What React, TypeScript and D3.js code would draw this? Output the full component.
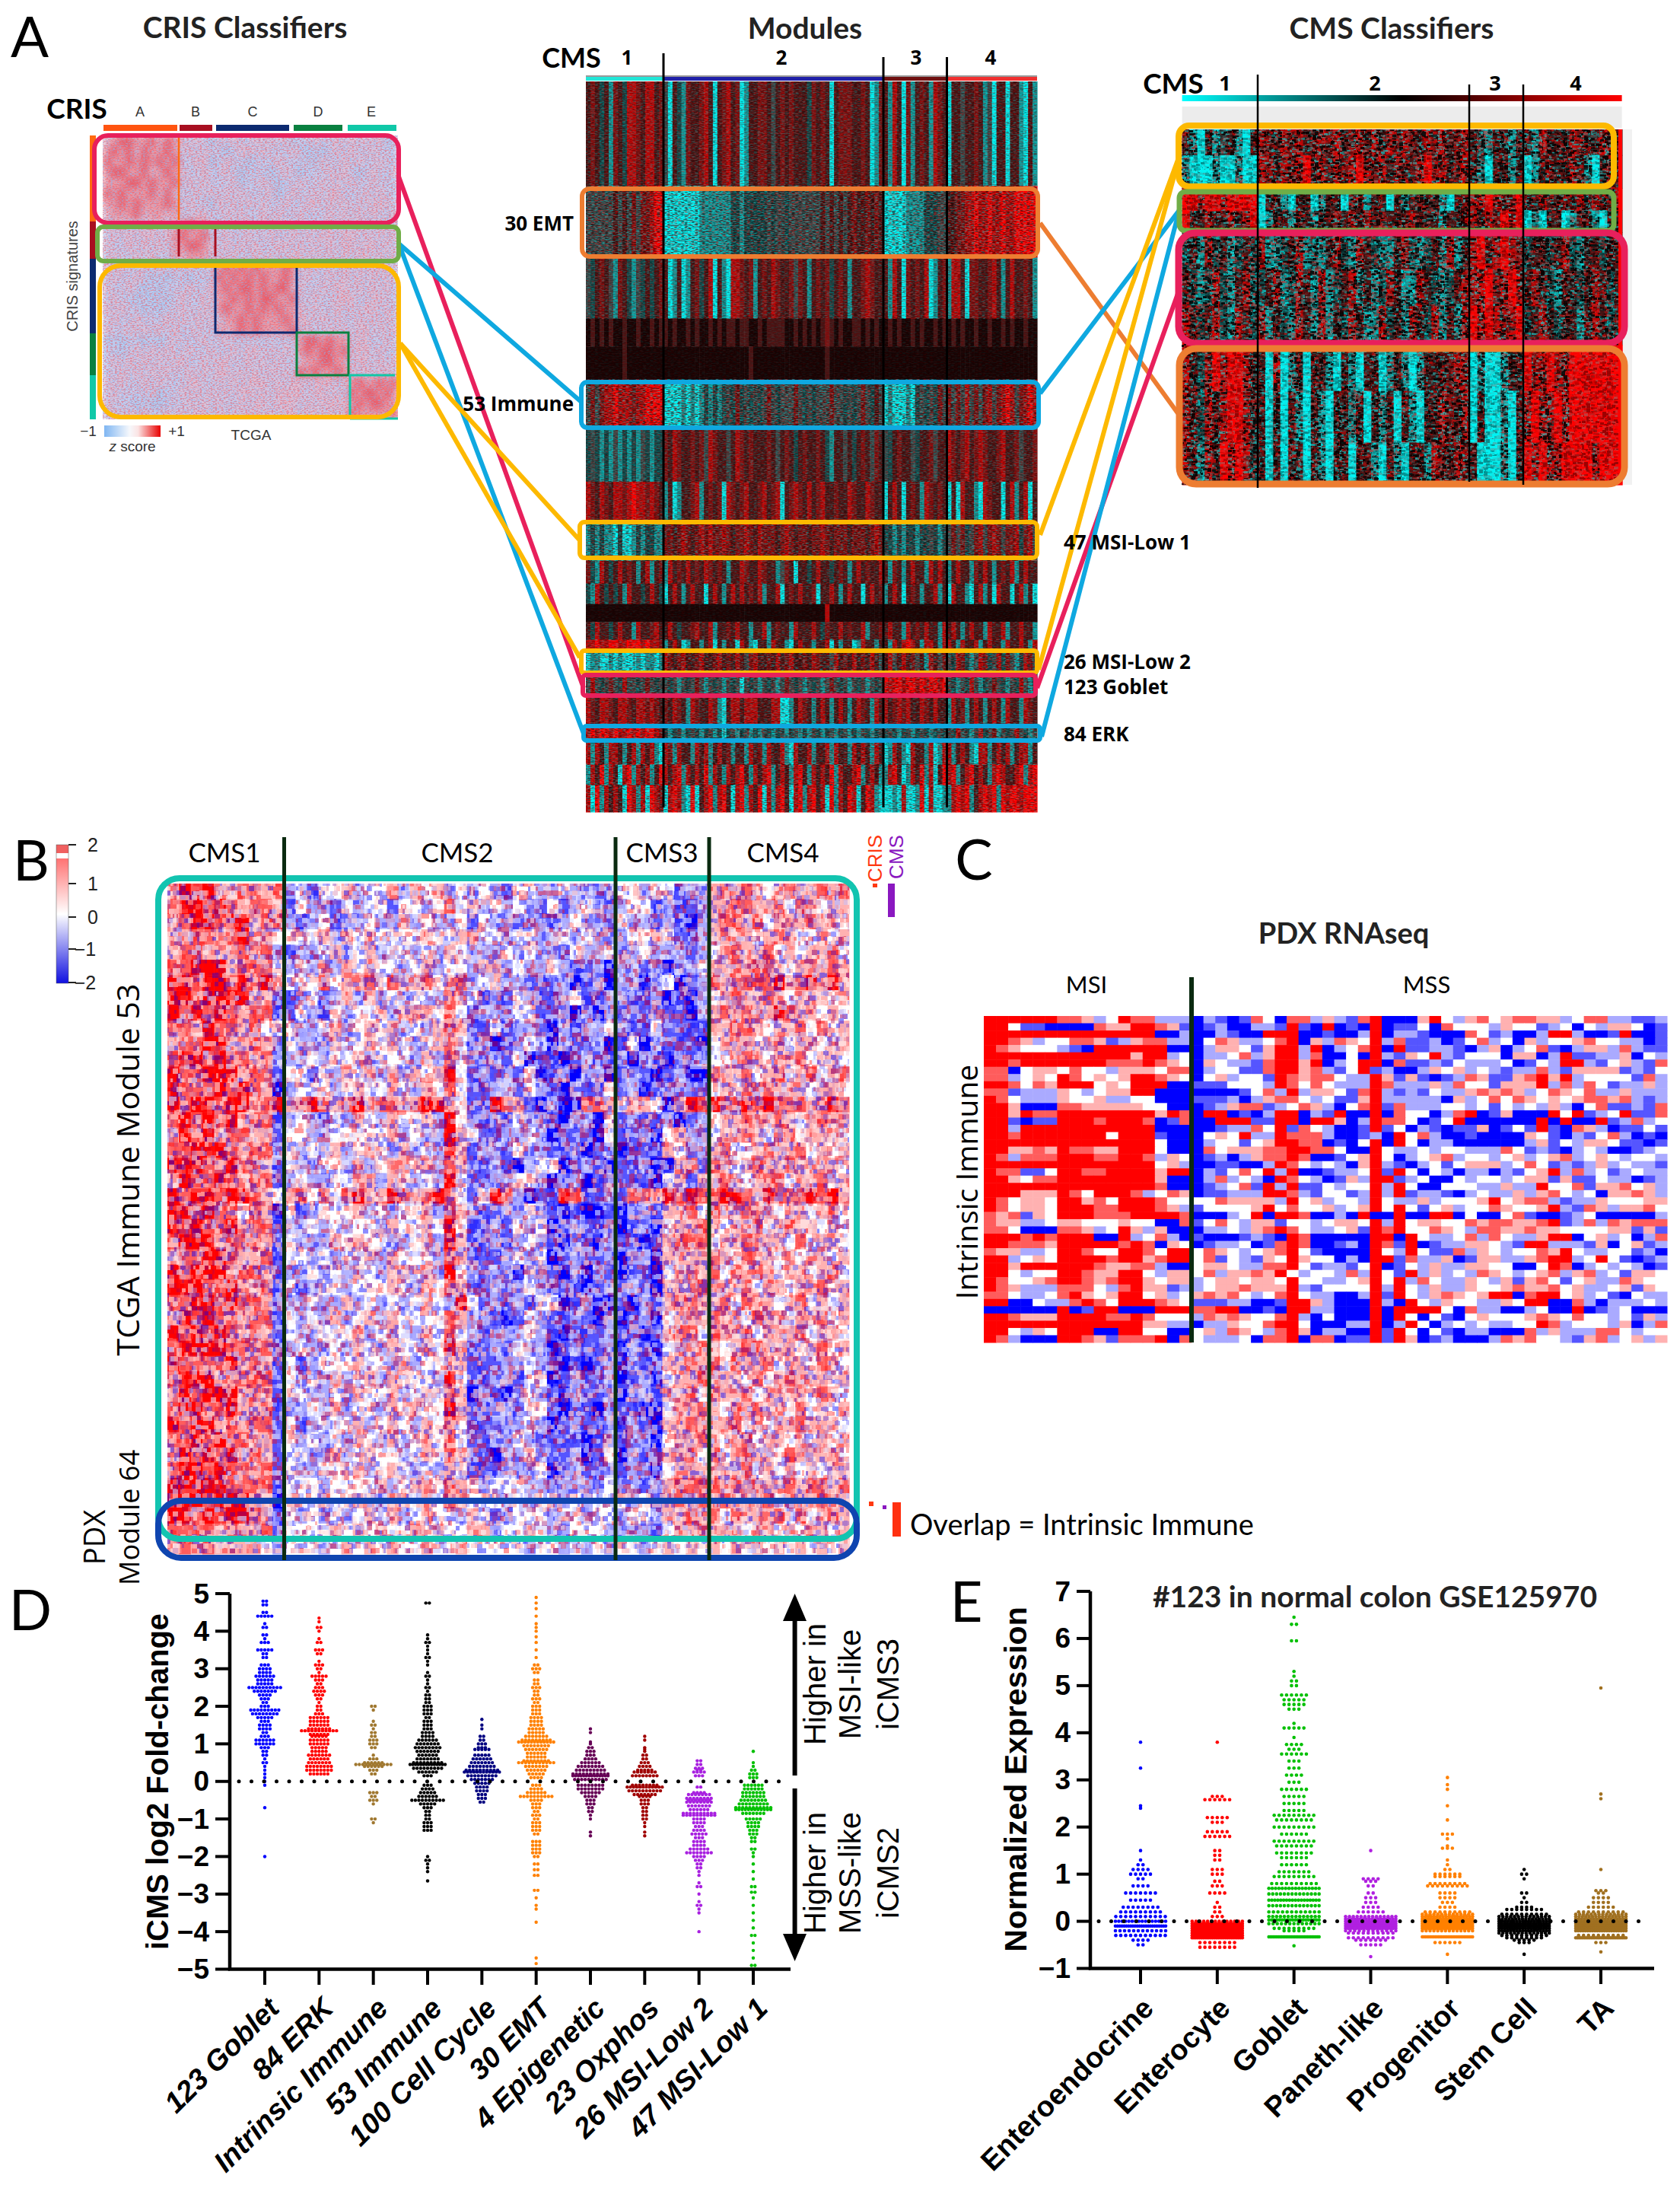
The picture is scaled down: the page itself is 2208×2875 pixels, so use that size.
import React from 'react';
import * as d3 from 'd3';

// ---------- Panel A: module heat map (cyan / black / red), one row per module band, one string per CMS group
const heatPaletteKeys = ['c','t','d','g','m','r','R','F','k'];
const heatPaletteVals = ['#00f2f2','#109c9c','#124848','#3a4a4a','#481414','#7c1010','#b80808','#ff0000','#180404'];
const moduleRowSizes = [205,140,120,55,65,95,105,80,75,45,40,35,35,22,45,43,60,28,47,40,53];
const moduleCms1 = ['mrmdmtrmdRRrmRRmr','ggggggmgmgrgrrRFF','gdmrmgtrmdtgdmdmr','kmkmkmkkmkkmkkmkm','kkkkkkkkmkkkkkkkk','grgrRRFRRRrRRFFFF','dgdtdtgtdtdtgdtdd','RrmRrmRRrRFRRrRrm','tdtdttcdcctdtddtt','rdtRmdmRmrmtmRtmr','dtRmdmdmtRmmdmRmd','kkkkkkkkkkkkkkkkk','mdRmmdmRmmtRmmrRm','RRFRRFFRRFFFRFRRr','cttcctctccctcttct','gRgdgrgdRggdgrgdg','RrmRRrmRRrmRRrRrm','RFRFFRFRRFRFRFFRr','RtRmtRRmtmRtRmRtc','tRmFtRmcRFtRmRtmF','RcFtRmRmcFRtRcFRr'];
const moduleCms2 = ['gcmdtrmmrRmcmrRmrctmmrrmgmrmrmmmdrmrmcmrrrmmrmctr','cccccccctttttttddtdddddgdggdgggggggmgmgmgmrmmrmrm','mctmctmrdmRcmtcRRrmrtmrmRrmmrgrmtmrmrdmrmtmmrRrmm','mkmkkmkmkkmkmkmmkmmkkmkmmmmkkmkmkmkmrmkmkkmmkmkmk','kkkkkkkkkkkkkkkkkkkmkkkkkkkkkkkkkkkkmkkkkkkkkkkkk','cccctctctdtdtdgdrdgdgdgrgdgggrgdgdgggrggdgdgrgdmg','rmRrmmrmrgRrmmgmRrmrmmmrmgmrmdmrmmrmdtmmgmdmrmgrm','tmctmmrRtmrmrcRrmrRmmrRmrRcmrRrmRmrRmmrmmRrmmRrmm','rrmrRrmrRrRrrRrmrrRrmRrrrmrRrmrrmrrRrmrrrmrrrmrRr','tRmrmRmrmRrmrmtmmRrmmRrmmtgrmcmmdmRmmdmrmtmRmrmmR','cmRmtmRmmcmRmtmRmRmrmRtmmRcmrmRmmrcmmRmtmRmmcmRmr','kkkkkkkkkkkkkkkkkkkkkkkkkkkkkkkkkkkkRkkkkkkkkkkkk','mRmdmmrRmmRtmmrmRmmtmmRtmrmmtRmmmRmdrmmRmrmmRtmmr','tmRmctmmtmRcmtmmcRmtcmmtRmmtcmRmmtmmRcmtmmctRmmtm','RrmrRmmrRmmrRmrmRmgrRmmrmRmrRmmrmRrmmgRmrmRmrmRmg','gdgtgdgrgtgdgtgdgcgdgtgdgtgrgdgtgdgtgrgdgtgdgtgdg','rmRrmtRrmmRrtcmRRmRRRmmmRRcctmRrmtmRmtmRmtmRrmtRm','dtdgtdgdtdgtdcdgtdgtdtgdtdgtdgtdtgdtdgtdgtdtgdtdg','RrtRmmtRmRtmRmrtmmtRmrtRmmRtcRmmRtmmRtRmmtRmRmtRm','RmRFtRmRmFtRmtRmRFmtRmRFtmRmtRFmtRmRmFtRmmRFtmRmt','cRFRtcFcmRFtRFmcRFtRmFcRtRFmcRFtRFmRcFtRmFRcmFRtc'];
const moduleCms3 = ['mtRmcrtmrmtRrm','cccccttttdddgg','mtRmcrmrmRctmr','kmkmkkmkmkkmkm','kkkkkkkkkkkkkk','ctccctcdgdgdrg','gdmrmmgdmmrgmm','cmRmcmrmtRrmrm','ddtdtddtddgdtd','mtrmtmRmmtRmRm','tmRmcmrmtmmRtm','kkkkkkkkkkkkkk','mRmmtRmrmRmmtR','mtRmRFRmtRRmtR','mRgmRmrgmtRmgr','FRFFRFFRFRFFRF','RmrRrRmmRrmRmm','dgdtdgtdgdtdgd','ctRmtcRmmtRctR','tRFmctRmFtRcmF','cctcRcctFcRcct'];
const moduleCms4 = ['cmmgmmrmtgcmmcmmtcmt','mmrrRRFRRFRRFRRFFFFF','tRRmcrrmmrRmtmRmmrmt','kmkmkkmkkmkkmkmkkmkk','kkkkkkkkkkkkkkkkkkkk','rgrgRgrgrRgrRFRgrRFR','RrmrRmrRrmmrRmmrgmmr','cmcRmmtcRrmmcmRtmRcm','grgrdgrRgrRrgrrRdrRg','tmRmmtrmRmtmrmRtmRmm','cRmmtcmRtmcRmmcmRtmc','kkkkkkkkkkkkkkkkkkkk','mRmtmRmmtRmmRtmmRmmt','RmtRmmRtmRmmtRmmRmtR','gdRrdtgRrdgRdrgtdRrg','gdtgdRgtdgrgdtgdRgtd','tRmrtmRmtmRmtRmmtRrm','gdRgdtgRdgrtgdgRgdtg','RtmRmtcRRtmRmRtmRRtm','RFtmRFmRmtRFRmmRFtRF','tRFRFtmRFRFtFRFFRFFF'];
const moduleNoise = [.3,.5,.3,.1,.07,.5,.3,.3,.45,.3,.3,.07,.3,.3,.45,.45,.35,.45,.4,.4,.4];
const moduleCmsShare = [0,102,391,474.5,593];

// ---------- Panel A: CMS classifiers
const classifierRowSizes = [70,90,60,60,100,100,105,125,140,115];
const classifierCms1 = ['mtcmtgmtcm','tccctcctcc','FFRFFRFFFF','FmmRmmRmRF','dmtRdmtdmd','mdtdRdtmRd','RmdmRdtRmd','RmdRFRFFRm','RmdRmRFFRm','RmtRmFRFRd'];
const classifierCms2 = ['RrmRrRmrRrRmrRrRmRrRrmRrRmrR','RrmRrRFrRmRrRFRrRmRrmRFrRmrR','cmmtcmmctmmcmrtmmcmtmrmmtcmr','ctmmtmmtmmrmRmRmrmmrRmmmtmmR','RttdmRtdtmRdtRmdttmRdtdmtRtm','dmRtdRmtRtdmRtmtdRmttRmdtdmR','RtmdtRmtRtmdRmttRdmtRmdRtmtR','mcRctmcmmtcmtcmmctmtctmmmrRR','mcmcmtcmtcmmtmcmtmcmtcmmRrmR','mcmcmmcmtcmmcmmtcmtcmmtRrmRr'];
const classifierCms3 = ['mgtmmtm','mtcmmtm','RRFRrRF','RmRrFRF','RFrRFRr','RRFrRFR','FRFRrRF','ctcctmm','cmcctcm','mccctcm'];
const classifierCms4 = ['mtRmmmRrmmRrm','ctmrmmRmtcmrm','mmRmmrmRmRmmR','ctcmmctmmtcmm','dmmdmRdtmmdmm','mRmdtmmdmRmdm','dmRmdmmtmRmdm','FRRFRRFFFFFFF','RFRRFRFFFFFFF','FRFRRFFFFRFFF'];
const classifierCmsShare = [0,99.4,377.4,449,578.4];

// ---------- Panel A: CRIS classifiers (0 blue .. 5 red); groups A B C D E split by spaces
const crisRows = [
'3455445354 32321 32322323231 2232232 3232312','4545354454 23232 21233232223 2121232 3223222','5445454545 22331 23221222322 2213223 2322322','4554453454 32232 23212221232 1222323 2123223',
'4445545445 23232 22312232122 3223232 3223222','5454445353 22323 23232223123 2232332 2232322','4454544454 23221 32323232232 2332323 2323332','3444534434 22332 23232232322 3222323 2323223',
'3232323323 45442 22323232323 2232323 2322332','2323233234 54452 23223223223 2323323 3232323','3223232324 45543 23232322332 3232323 3233232','2322323224 34442 32322323223 3232323 2332323',
'3232232323 23223 45454544454 3232323 2323332','2322321212 21222 54545454454 2322323 2323232','3223212122 23223 45455454553 3223233 2323232','2322121212 32232 44545455445 2232233 3223322','3232212122 32232 45445454544 3232232 3233232','2322322232 32323 24454544454 3323232 2323232','3223232323 22322 43454544445 2322323 2332323',
'1212212123 22232 23222222222 4554544 2332232','2212323232 23223 22323323232 4545545 2332322','2323232323 32232 33223232322 3445544 2332323','2232323232 23232 33232323232 5454454 3232332',
'3232232322 23322 32323332323 3233323 4544545','2322223122 32323 23233232333 3233232 5455454','3222121122 23232 32232332333 2323333 4545544','2323232232 32332 32323323233 2332323 5444445'];

// ---------- Panel B: TCGA immune heat map (0 blue, 3 white, 6 red); groups CMS1..CMS4 split by spaces
const tcgaRows = [
'4656445545 23133423342434232321332232212 33233122 4545434544545','5665654554 13221323313323534232321312321 23312112 4455445354344','4566566455 21231223224232231322122123221 32212102 4554534445443','4455456443 33342434333343344332332232322 23343112 4544345433434',
'4554445452 12234234233232432223232213223 22322212 3454453434453','5566645553 23242434332342332442322321120 22120223 4454554344454','6656656564 33353445354453452342211120120 22023012 5455556456464','6656666441 12312424232332543121321123112 21120102 3454454344434',
'6565654551 13213233424443531222331120202 12121102 4545446544343','5546554533 32234234342324541131221021223 21131111 4455434453534','4556644541 32224334343234531201232021120 13021110 3444345344344','5665655452 22323342333242532121301101211 20210212 3345434453443',
'6556664551 33132434242434631212130120220 12101200 5445345345345','6555656540 23332343343243531122132102113 12012111 3435454443443','6566566456 45654564554566431165410200554 34430465 6556565554565','5656564551 23213243243342631121322102203 12112012 3445445434544',
'4656455441 33223333342322643112232011103 11203421 3445434534443','5566654552 32324234324232641221322112012 01114312 4533454453434','6665565541 32233242344342541121023301210 11200451 5434544544443','4655654551 23223344243232631122332012012 11103414 4543455344534',
'6566566543 45353564465456531365201165112 15546565 5665465556564','6656553540 31233342323342542112232101001 02214453 5445443443453','6565564551 22323233243343631121323012112 01203445 4344534544343','5666455541 32224343322342641121232102102 11014555 3445444353443',
'4556654451 33232334243332541112323012112 02204444 5435443434434','6566645541 22323243244342632122032102021 01103454 5354543443453','6665564451 31233233343243541121232111012 12104445 4445354344534','5566565541 22322423232343263121213301200 10214554 4535443453434',
'4656554551 32324234243333542210132112102 01203444 5443544344534','6565654541 32233342343243532122232101112 11014553 5445344453443','5666655451 23223243243343641121322012112 02103445 4345544434534','6555564541 31233343324233441112232101012 02114454 5354453443543',
'5666455551 32324234243332631122133012112 01203445 4443534544434','4656664541 33223243342343540210232102112 02214453 5445344443543','5665564451 22324233243433641122133101102 11003445 4354544353434','6566454551 31233342343243531112232012112 02104454 4453434454443',
'5565655441 32323243243343531122321111012 12203445 4345344343434','4656564541 33224234332343542102232112013 02114453 5345443544443','5665655451 32233342343232431112223012112 12203444 4445343434344',
'6666655551 33323333423443543233322122213 22124555 5454544545545','6665666540 33343344244343543332323323233 32314545 4544453544544','6656566541 32323234342343324312333233233 23324454 5354445353454','5555454451 33334343433434334423343223332 22213445 4443443434434','4545444432 33323434343343343333323323232 33234343 4343434343434'];

// ---------- Panel C: PDX RNAseq heat map (0 blue, 3 white, 6 red); MSI and MSS split by a space, MSS in fives
const pdxRows = [
'66666655423655222 02101_53055_24215_60004_63245_34554_42355_22112',
'66311000054466541 01200_22161_06010_60113_05333_24331_23032_44301',
'66666666666666002 00210_06660_01002_60221_00053_12002_66200_16001',
'66542335541245522 03542_23560_42543_62511_20135_23042_33453_32201',
'65433321066666600 02443_14662_60235_60611_22102_40235_10244_25211',
'66666666666646623 02235_24662_50030_62143_62133_30440_26112_24032',
'66566666665556543 04322_15664_60236_60511_21322_23013_26621_34215',
'55034435332444355 02331_15664_52136_12002_43423_21225_21444_41213',
'55234365343466543 03423_31654_55322_64141_01254_11456_46233_33152',
'66535466634366600 11133_32653_53222_65222_42533_14446_25253_12242',
'55122243234466000 00001_35262_44315_62121_32245_45423_54352_24222',
'65322243342233000 11120_24553_23114_62222_20423_53543_43455_45212',
'66400055444443300 01245_51235_42035_61522_23323_13232_42035_11215',
'66465566666666465 06601_02660_21600_60533_02560_14000_63612_36115',
'66101166656665015 00666_11660_66402_65530_13600_00006_06006_12523',
'66266666666666000 00122_53615_32001_61302_10114_01316_10542_01131',
'66566666663666100 03436_22655_52001_20635_20010_00043_10213_52010',
'66666666666666300 02331_34665_50103_60630_22000_00024_13244_31101',
'66445465544666300 05344_45566_55300_63223_23322_25312_10232_00123',
'65255566655665243 01202_45565_00134_63023_45233_23423_45234_32332',
'66666666666666342 00110_02653_23204_62102_31344_42353_12124_23221',
'65511366556666466 02135_36260_01223_61630_32022_02134_62523_12322',
'66435566666666400 02523_20653_20142_66123_00323_32344_14113_22012',
'66666666666666500 01235_16261_13233_62630_03332_24226_33514_45342',
'66644465366652354 01122_26652_13312_62612_21023_22424_53230_44542',
'65344366453666533 33544_44263_42332_63224_23334_63455_21224_33344',
'65344366655666542 13333_46353_34234_63631_34233_54334_62154_24453',
'54514366655566665 00023_60665_00206_00600_66030_03510_01230_00002',
'54422344333433005 13532_44133_23443_62634_43354_55445_61252_54555',
'55300055423642400 02232_45653_22341_65633_54325_54454_43333_44141',
'66656566600623520 10001_21065_00000_66063_22352_53224_66034_23025',
'66555466666565043 01223_01565_00120_65160_12244_32166_22214_03412',
'54422366533665366 35432_34563_10000_63263_11524_32335_46322_33120',
'66234366665664566 35132_14364_33020_66152_24014_42245_66236_31012',
'66466666654455200 34432_25563_12213_60132_42244_33003_65023_23201',
'66323366544663244 35244_54632_33252_63162_42325_43234_52452_31443',
'65334566545664344 23443_44363_32234_63625_32243_24145_31342_25433',
'65422255532564412 23445_44462_13333_62632_42243_34544_53422_34143',
'55322356434663423 45453_23563_22002_61632_45434_66056_63423_10322',
'66003225653666543 11122_00166_42000_62063_24332_24366_00520_22232',
'00000060166000666 55660_01066_22000_60666_63052_20023_00601_23000',
'66544466665565333 25454_33562_03000_60630_31034_33345_43533_23142',
'66666666666664422 02243_35663_00022_60263_02323_22336_52333_24025',
'66324366600663300 34254_32564_02200_61630_31022_00052_42225_53233',
'65200066541555605 32223_05560_55011_61640_12000_25453_32145_23424'];

// ---------- Panel D: [log2 fold change, number of genes at that level]
const dCategories = ['123 Goblet','84 ERK','Intrinsic Immune','53 Immune','100 Cell Cycle','30 EMT','4 Epigenetic','23 Oxphos','26 MSI-Low 2','47 MSI-Low 1'];
const dColors = ['#0000ff','#ff0000','#a07830','#000000','#000080','#ff8000','#660055','#a00000','#a820e0','#00c000'];
const goblet123 = [[4.8,2],[4.7,2],[4.5,2],[4.4,5],[4.2,1],[4.1,2],[3.9,2],[3.8,1],[3.7,3],[3.5,5],[3.4,2],[3.3,2],[3.1,3],[3,4],[2.9,4],[2.8,6],[2.7,5],[2.6,5],[2.5,10],[2.4,7],[2.3,4],[2.2,3],[2.1,2],[2,3],[1.9,9],[1.8,8],[1.7,5],[1.6,3],[1.5,4],[1.4,4],[1.3,2],[1.2,3],[1.1,6],[1,6],[.9,3],[.8,2],[.7,2],[.6,1],[.5,2],[.4,1],[.3,1],[.2,1],[.1,1],[0,1],[-.1,1],[-.7,1],[-2,1]];
const erk84 = [[4.35,1],[4.25,1],[4.1,2],[4,1],[3.8,1],[3.7,2],[3.5,3],[3.4,2],[3.2,1],[3.1,3],[3,2],[2.9,1],[2.8,5],[2.7,3],[2.6,2],[2.5,3],[2.4,4],[2.3,3],[2.2,2],[2.1,1],[2,2],[1.9,2],[1.8,3],[1.7,6],[1.6,6],[1.5,6],[1.4,7],[1.35,11],[1.25,6],[1.2,5],[1.1,6],[1,6],[.9,5],[.8,5],[.7,7],[.6,6],[.5,7],[.4,8],[.3,8],[.2,6]];
const intrinsicImmune = [[2,2],[1.9,1],[1.6,1],[1.5,2],[1.4,1],[1.3,2],[1.2,2],[1.1,3],[1,3],[.9,2],[.7,1],[.6,3],[.5,6],[.45,11],[.4,6],[.3,3],[.2,2],[-.3,3],[-.4,2],[-.5,3],[-.6,1],[-1,2],[-1.1,1]];
const immune53 = [[4.75,2],[3.9,1],[3.8,1],[3.7,2],[3.6,1],[3.5,1],[3.4,1],[3.3,2],[3.2,1],[3.1,1],[2.9,1],[2.8,2],[2.7,1],[2.6,1],[2.5,2],[2.4,1],[2.3,2],[2.2,2],[2.1,2],[2,3],[1.9,3],[1.8,3],[1.7,2],[1.6,3],[1.5,3],[1.4,3],[1.3,4],[1.2,4],[1.1,6],[1,7],[.9,8],[.8,7],[.7,6],[.6,7],[.5,9],[.45,14],[.35,9],[.25,6],[.15,3],[-.1,3],[-.2,4],[-.3,5],[-.4,6],[-.5,10],[-.6,5],[-.7,3],[-.8,2],[-.9,2],[-1,2],[-1.1,3],[-1.2,3],[-1.3,3],[-2,1],[-2.1,2],[-2.2,1],[-2.3,1],[-2.4,1],[-2.65,1]];
const cellCycle100 = [[1.65,1],[1.5,1],[1.4,1],[1.2,2],[1.1,2],[1,3],[.9,3],[.85,5],[.7,5],[.6,6],[.5,7],[.4,8],[.3,10],[.25,12],[.15,9],[.05,7],[-.05,5],[-.15,4],[-.25,4],[-.35,3],[-.45,3],[-.55,2]];
const emt30 = [[4.9,1],[4.75,1],[4.6,1],[4.4,1],[4.2,1],[4.1,1],[4,1],[3.85,1],[3.7,1],[3.5,1],[3.3,1],[3.1,2],[3,3],[2.9,2],[2.7,2],[2.6,2],[2.5,3],[2.4,2],[2.3,2],[2.2,3],[2.1,2],[2,3],[1.9,3],[1.8,3],[1.7,4],[1.6,4],[1.5,4],[1.4,5],[1.3,5],[1.2,7],[1.1,9],[1.05,12],[.95,8],[.85,7],[.75,6],[.65,6],[.55,8],[.5,11],[.4,7],[.3,6],[.2,5],[.1,4],[-.1,3],[-.2,4],[-.3,6],[-.4,10],[-.5,4],[-.6,3],[-.7,3],[-.8,2],[-.9,3],[-1,2],[-1.1,3],[-1.2,3],[-1.3,3],[-1.4,2],[-1.6,3],[-1.7,3],[-1.8,3],[-1.9,3],[-2,2],[-2.2,2],[-2.35,2],[-2.5,2],[-2.9,2],[-3.1,1],[-3.3,1],[-3.4,1],[-3.75,1],[-4.7,1],[-4.85,1],[-5,1]];
const epigenetic4 = [[1.4,1],[1.3,1],[1.05,1],[1,1],[.9,2],[.8,3],[.7,3],[.6,4],[.5,6],[.4,8],[.3,9],[.2,11],[.15,14],[.05,10],[-.1,8],[-.2,8],[-.3,6],[-.4,4],[-.5,3],[-.6,3],[-.7,2],[-.8,2],[-.9,1],[-1,1],[-1.35,1],[-1.45,1]];
const oxphos23 = [[1.2,1],[1.1,1],[.9,1],[.85,1],[.8,1],[.7,2],[.6,2],[.5,3],[.4,4],[.3,5],[.25,7],[.15,8],[-.1,8],[-.15,12],[-.25,10],[-.35,7],[-.4,4],[-.5,3],[-.6,3],[-.7,2],[-.8,2],[-.9,2],[-1,2],[-1.1,1],[-1.2,1],[-1.35,1],[-1.45,1]];
const msiLow26 = [[.55,2],[.45,2],[.35,3],[.3,2],[.25,4],[.15,3],[-.15,2],[-.3,4],[-.35,7],[-.45,8],[-.5,7],[-.55,8],[-.65,7],[-.75,6],[-.85,10],[-.9,10],[-1,4],[-1.1,4],[-1.2,3],[-1.3,4],[-1.4,5],[-1.5,3],[-1.6,4],[-1.7,4],[-1.8,6],[-1.9,8],[-2,4],[-2.1,3],[-2.2,2],[-2.3,2],[-2.4,1],[-2.5,1],[-2.7,1],[-2.8,2],[-3,1],[-3.2,1],[-3.3,2],[-3.4,1],[-3.5,1],[-4,1]];
const msiLow47 = [[.8,1],[.5,1],[.4,1],[.3,2],[.2,3],[.1,3],[-.1,6],[-.2,6],[-.3,7],[-.4,7],[-.5,8],[-.6,9],[-.7,11],[-.75,12],[-.85,7],[-1,5],[-1.1,4],[-1.2,4],[-1.3,3],[-1.4,3],[-1.5,2],[-1.6,2],[-1.8,2],[-1.9,1],[-2,1],[-2.2,1],[-2.4,1],[-2.6,1],[-2.8,2],[-2.95,2],[-3.1,1],[-3.3,1],[-3.5,1],[-3.7,1],[-3.9,1],[-4.1,2],[-4.3,1],[-4.5,1],[-4.7,1],[-4.9,2]];
const dSeries = [goblet123,erk84,intrinsicImmune,immune53,cellCycle100,emt30,epigenetic4,oxphos23,msiLow26,msiLow47];
const dTicks = [5,4,3,2,1,0,-1,-2,-3,-4,-5];

// ---------- Panel E: [normalized expression, number of cells at that level]
const eCategories = ['Enteroendocrine','Enterocyte','Goblet','Paneth-like','Progenitor','Stem Cell','TA'];
const eColors = ['#0000ff','#ff0000','#00c000','#b020e0','#ff8000','#000000','#a07020'];
const enteroendocrine = [[3.8,1],[3.25,1],[2.45,1],[2.4,1],[1.5,1],[1.3,1],[1.2,2],[1.1,4],[1,5],[.9,2],[.75,4],[.6,7],[.45,5],[.3,8],[.2,9],[.1,11],[0,16],[-.1,24],[-.2,12],[-.3,11],[-.4,4],[-.5,2]];
const enterocyte = [[3.8,1],[2.65,3],[2.58,6],[2.2,5],[2.1,3],[1.9,5],[1.8,6],[1.5,2],[1.4,2],[1.3,2],[1.1,3],[1,3],[.85,2],[.75,3],[.6,4],[.4,1],[.3,2],[.2,2],[.1,3],[0,14],[-.05,20],[-.1,24],[-.15,28],[-.2,28],[-.25,28],[-.3,28],[-.35,28],[-.45,8],[-.55,8]];
const gobletCells = [[6.45,1],[6.3,2],[5.95,2],[5.3,1],[5.2,1],[5.1,2],[5,2],[4.8,6],[4.7,5],[4.6,5],[4.5,3],[4.2,1],[4.1,5],[3.9,1],[3.75,4],[3.65,3],[3.55,6],[3.4,3],[3.25,3],[3.1,4],[2.95,3],[2.8,6],[2.65,5],[2.5,5],[2.35,5],[2.25,9],[2.15,8],[2,9],[1.85,6],[1.7,9],[1.6,8],[1.45,8],[1.35,6],[1.2,6],[1.05,7],[.95,9],[.8,10],[.7,16],[.58,14],[.45,18],[.33,14],[.2,12],[.1,14],[.03,20],[-.05,13],[-.15,9],[-.2,5],[-.33,36],[-.52,1]];
const panethLike = [[1.5,1],[.9,4],[.85,3],[.75,2],[.6,2],[.5,3],[.4,3],[.3,4],[.2,6],[.1,14],[.05,18],[0,20],[-.05,22],[-.1,24],[-.15,20],[-.2,12],[-.25,10],[-.35,10],[-.4,7],[-.5,5],[-.75,1]];
const progenitor = [[3.05,1],[2.9,1],[2.8,1],[2.45,1],[2.15,1],[1.85,3],[1.75,1],[1.6,1],[1.55,3],[1.3,1],[1.2,1],[1.1,2],[1,6],[.95,6],[.8,8],[.75,9],[.6,4],[.5,4],[.4,3],[.3,4],[.2,10],[.15,14],[.1,18],[.05,20],[0,24],[-.05,26],[-.1,26],[-.15,24],[-.2,14],[-.33,32],[-.45,6],[-.7,1]];
const stemCell = [[1.1,1],[1,2],[.9,1],[.6,2],[.5,1],[.4,2],[.3,4],[.25,8],[.15,10],[.1,14],[.05,16],[0,18],[-.05,20],[-.1,22],[-.15,20],[-.2,18],[-.25,14],[-.3,10],[-.35,8],[-.4,5],[-.45,3],[-.7,1]];
const taCells = [[4.95,1],[2.7,1],[2.6,1],[1.1,1],[.65,3],[.6,2],[.5,4],[.4,4],[.3,6],[.2,10],[.15,14],[.1,16],[.05,18],[0,20],[-.05,24],[-.1,26],[-.15,26],[-.2,22],[-.3,10],[-.35,30],[-.45,3],[-.65,1]];
const eSeries = [enteroendocrine,enterocyte,gobletCells,panethLike,progenitor,stemCell,taCells];
const eTicks = [7,6,5,4,3,2,1,0,-1];

// ---------- drawing helpers
const LATO = 'Lato, sans-serif';
const OPEN = '"Open Sans", sans-serif';
const ARIAL = '"Liberation Sans", Arial, sans-serif';
const heatColor = d3.scaleOrdinal<string,string>().domain(heatPaletteKeys).range(heatPaletteVals);
const divergent = d3.scaleLinear<string>().domain([0,1.5,3,4.5,6]).range(['#0000ff','#8080ff','#ffffff','#ff8a8a','#ff0000']);
const crisColor = d3.scaleLinear<string>().domain([0,1,2,3,4,5]).range(['#8fbcf0','#aecbf0','#c6cdec','#e0bed2','#ec9aa6','#ea5a66']);

const Speck = ({x,y,w,h,layers}:any) => <g>{layers.map(([id,o]:any,i:number)=><rect key={i} x={x} y={y} width={w} height={h} filter={`url(#${id})`} opacity={o}/>)}</g>;

const noiseFilter = (id:string,fx:number,fy:number,seed:number,rgb:number[],gain=7,off=-3.4)=>(
  <filter key={id} id={id} x="0" y="0" width="1" height="1" colorInterpolationFilters="sRGB">
    <feTurbulence type="fractalNoise" baseFrequency={`${fx} ${fy}`} numOctaves={1} seed={seed}/>
    <feColorMatrix type="matrix" values={`0 0 0 0 ${rgb[0]} 0 0 0 0 ${rgb[1]} 0 0 0 0 ${rgb[2]} ${gain} 0 0 0 ${off}`}/>
  </filter>
);
// blocky grain: noise sampled once per tile, then grown back to the tile size
const cellFilter = (id:string,reg:number[],cw:number,ch:number,seed:number,rgb:number[],gain=9,off=-4.6)=>(
  <filter key={id} id={id} filterUnits="userSpaceOnUse" x={reg[0]} y={reg[1]} width={reg[2]} height={reg[3]} colorInterpolationFilters="sRGB">
    <feTurbulence type="fractalNoise" baseFrequency="0.37" numOctaves={1} seed={seed} result="n"/>
    <feFlood x={reg[0]} y={reg[1]} width={1} height={1} floodColor="#000" result="d"/>
    <feComposite in="d" in2="d" width={cw} height={ch} result="cell"/>
    <feTile in="cell" result="tile"/>
    <feComposite in="n" in2="tile" operator="in" result="pts"/>
    <feMorphology in="pts" operator="dilate" radius={`${Math.ceil(cw/2)} ${Math.ceil(ch/2)}`} result="big"/>
    <feColorMatrix in="big" type="matrix" values={`0 0 0 0 ${rgb[0]} 0 0 0 0 ${rgb[1]} 0 0 0 0 ${rgb[2]} ${gain} 0 0 0 ${off}`}/>
  </filter>
);

function SegHeat({rowSizes,segs,share,x0,y0,y1,only,opacity=1}:any){
  const total = d3.sum(rowSizes as number[]);
  const ys = d3.scaleLinear().domain([0,total]).range([y0,y1]);
  let acc = 0;
  const out:any[] = [];
  (rowSizes as number[]).forEach((sz,ri)=>{
    const top = ys(acc), bot = ys(acc+sz); acc += sz;
    segs.forEach((seg:string[],si:number)=>{
      const chars = seg[ri].split('');
      const sc = d3.scaleBand<number>().domain(d3.range(chars.length)).range([x0+share[si],x0+share[si+1]]);
      chars.forEach((c,ci)=>{ if(only && !only.includes(c)) return; out.push(<rect key={`${ri}-${si}-${ci}`} x={sc(ci)} y={top} width={sc.bandwidth()+.6} height={bot-top+.5} fill={heatColor(c)}/>); });
    });
  });
  return <g opacity={opacity}>{out}</g>;
}

// rows are strings of digits, split into column groups by spaces; edges gives the pixel limits of the groups
function GridHeat({rows,edges,y0,y1,color,blur}:any){
  const yb = d3.scaleBand<number>().domain(d3.range(rows.length)).range([y0,y1]);
  const out:any[] = [];
  (rows as string[]).forEach((r,ri)=>{
    r.split(' ').forEach((part,si)=>{
      const seg = part.replace(/_/g,'');
      const sc = d3.scaleBand<number>().domain(d3.range(seg.length)).range([edges[si],edges[si+1]]);
      seg.split('').forEach((c,ci)=>out.push(<rect key={`${ri}-${si}-${ci}`} x={sc(ci)} y={yb(ri)} width={sc.bandwidth()+.5} height={yb.bandwidth()+.5} fill={color(+c)}/>));
    });
  });
  return <g filter={blur?`url(#${blur})`:undefined}>{out}</g>;
}

function Swarm({series,colors,xs,y,dx,maxW,r}:any){
  const out:any[] = [];
  (series as number[][][]).forEach((s,si)=>{
    s.forEach(([v,n],bi)=>{
      const step = Math.min(dx, n>1 ? maxW/(n-1) : dx);
      d3.range(n).forEach(i=>out.push(<circle key={`${si}-${bi}-${i}`} cx={xs[si]+(i-(n-1)/2)*step} cy={y(v)} r={r} fill={colors[si]}/>));
    });
  });
  return <g>{out}</g>;
}

const Txt = ({x,y,children,size,fam=LATO,w=400,anchor='middle',fill='#000',rot,style}:any)=>(
  <text x={x} y={y} fontSize={size} fontFamily={fam} fontWeight={w} textAnchor={anchor} fill={fill} dominantBaseline="central"
    transform={rot!==undefined?`rotate(${rot} ${x} ${y})`:undefined} style={style}>{children}</text>
);

const Box = ({x0,y0,x1,y1,c,w=6,rx=10}:any)=><rect x={x0} y={y0} width={x1-x0} height={y1-y0} rx={rx} fill="none" stroke={c} strokeWidth={w}/>;
const Link = ({x1,y1,x2,y2,c,w=6}:any)=><line x1={x1} y1={y1} x2={x2} y2={y2} stroke={c} strokeWidth={w}/>;

const PINK='#e8205c', YEL='#fdb900', BLU='#0fa8e0', ORG='#ed7d31', GRN='#70ad47', TEAL='#12c4b0', NAVY='#0f45b0';
const B_REG=[220,1161,896,881], K_REG=[1553,170,579,467];

export default function App(){
  const dY = d3.scaleLinear().domain([-5,5]).range([2587.5,2094]);
  const dX = d3.scalePoint<string>().domain(dCategories).range([348,990]);
  const eY = d3.scaleLinear().domain([-1,7]).range([2586.5,2091]);
  const eX = d3.scalePoint<string>().domain(eCategories).range([1499,2104]);
  const line = d3.line();
  return (
  <svg width={2208} height={2875} viewBox="0 0 2208 2875" style={{position:'absolute',left:0,top:0,background:'#fff',display:'block'}}>
    <defs>
      {noiseFilter('nCyan',.22,.85,3,[0,1,1])}
      {noiseFilter('nRed',.22,.85,8,[1,0,0])}
      {noiseFilter('nDark',.22,.85,13,[.05,0,0])}
      {cellFilter('cCyan',K_REG,3,2,21,[0,1,1])}
      {cellFilter('cRed',K_REG,3,2,27,[1,0,0])}
      {cellFilter('cDark',K_REG,3,2,33,[0,0,0])}
      {cellFilter('bBlue',B_REG,5,6,41,[0,0,1])}
      {cellFilter('bRed',B_REG,5,6,47,[1,0,0])}
      {cellFilter('bWhite',B_REG,5,6,53,[1,1,1])}
      {noiseFilter('rBlue',.35,.8,61,[.55,.72,.95])}
      {noiseFilter('rRed',.35,.8,67,[.93,.35,.4])}
      <filter id="soft" filterUnits="userSpaceOnUse" x={135} y={178} width={388} height={373} colorInterpolationFilters="sRGB"><feGaussianBlur stdDeviation="5 4" edgeMode="duplicate"/></filter>
      <linearGradient id="crisBar" x1="0" x2="1" y1="0" y2="0"><stop offset="0" stopColor="#7fb6f2"/><stop offset=".45" stopColor="#f6f8fc"/><stop offset=".6" stopColor="#fbe4e4"/><stop offset="1" stopColor="#e80000"/></linearGradient>
      <linearGradient id="cmsBar" x1="0" x2="1" y1="0" y2="0"><stop offset="0" stopColor="#00ffff"/><stop offset=".5" stopColor="#000"/><stop offset="1" stopColor="#ff0000"/></linearGradient>
      <linearGradient id="bBar" x1="0" x2="0" y1="0" y2="1"><stop offset="0" stopColor="#ff5050"/><stop offset=".5" stopColor="#fff"/><stop offset="1" stopColor="#1010e0"/></linearGradient>
    </defs>

    {/* ---------- Panel A ---------- */}
    <Txt x={39} y={46} size={74} anchor="middle">A</Txt>
    <Txt x={322} y={35} size={39} w={700} fill="#222">CRIS Classifiers</Txt>
    <Txt x={1058} y={36} size={39} w={700} fill="#222">Modules</Txt>
    <Txt x={1829} y={36} size={39} w={700} fill="#222">CMS Classifiers</Txt>

    {/* CRIS heat map */}
    <Txt x={101} y={141} size={37} w={700}>CRIS</Txt>
    {[['A',184],['B',257],['C',332],['D',418],['E',488]].map(([t,x])=><Txt key={t as string} x={x} y={147} size={18} fam={ARIAL} fill="#333">{t}</Txt>)}
    {[[136,233,'#ff5410'],[236,279,'#a80f20'],[284,380,'#0c2a70'],[386,450,'#0a8040'],[457,521,'#10c8a8']].map(([a,b,c])=><rect key={c as string} x={a as number} y={164} width={(b as number)-(a as number)} height={8} fill={c as string}/>)}
    {[[178,291,'#ff6a10'],[291,340,'#a80f20'],[340,438,'#0c2a70'],[438,493,'#0a8040'],[493,551,'#10c8a8']].map(([a,b,c])=><rect key={c as string} x={118} y={a as number} width={8} height={(b as number)-(a as number)} fill={c as string}/>)}
    <GridHeat rows={crisRows} edges={[135,235,283,390,458,523]} y0={178} y1={551} color={crisColor} blur="soft"/>
    <Speck x={135} y={178} w={388} h={373} layers={[['rBlue',.5],['rRed',.5]]}/>
    <line x1={235} x2={235} y1={179} y2={289} stroke="#ff6a10" strokeWidth={2.5}/>
    <path d="M235 300V337M283 300V337" fill="none" stroke="#a80f20" strokeWidth={3}/>
    <path d="M283 351V437H390V351" fill="none" stroke="#0c2a70" strokeWidth={3}/>
    <path d="M390 437H458V493H390Z" fill="none" stroke="#0a8040" strokeWidth={3}/>
    <path d="M460 548V493H519" fill="none" stroke="#10c8a8" strokeWidth={3}/>
    <line x1={460} x2={523} y1={550} y2={550} stroke="#10c8a8" strokeWidth={3}/>
    <Txt x={95} y={363} size={20} fam={ARIAL} rot={-90} fill="#444">CRIS signatures</Txt>
    <rect x={137} y={559} width={74} height={15} fill="url(#crisBar)"/>
    <Txt x={116} y={566} size={19} fam={ARIAL} fill="#333">−1</Txt>
    <Txt x={232} y={566} size={19} fam={ARIAL} fill="#333">+1</Txt>
    <Txt x={174} y={586} size={19} fam={ARIAL} fill="#333"><tspan fontStyle="italic">z</tspan> score</Txt>
    <Txt x={330} y={571} size={19} fam={ARIAL} fill="#333">TCGA</Txt>

    {/* Module heat map */}
    <rect x={770} y={99} width={593} height={2.5} fill="#9a9a9a"/>
    {[[770,872,'#22e6d8'],[872,1161,'#2020a8'],[1161,1244,'#701010'],[1244,1363,'#f03030']].map(([a,b,c])=><rect key={c as string} x={a as number} y={101} width={(b as number)-(a as number)} height={5} fill={c as string}/>)}
    <SegHeat rowSizes={moduleRowSizes} segs={[moduleCms1,moduleCms2,moduleCms3,moduleCms4]} share={moduleCmsShare} x0={770} y0={107} y1={1067}/>
    {(()=>{const t=d3.sum(moduleRowSizes),ys=d3.scaleLinear().domain([0,t]).range([107,1067]);let a=0;return moduleRowSizes.map((s,i)=>{const top=ys(a),h=ys(a+s)-top;a+=s;return <Speck key={i} x={770} y={top} w={593} h={h} layers={[['nCyan',moduleNoise[i]*.7],['nRed',moduleNoise[i]*.8],['nDark',moduleNoise[i]]]}/>;});})()}
    <Txt x={751} y={75} size={36} w={700} anchor="middle">CMS</Txt>
    {[['1',824],['2',1027],['3',1204],['4',1302]].map(([t,x])=><Txt key={t as string} x={x} y={75} size={26} fam={OPEN} w={700}>{t}</Txt>)}
    {[[872,70],[1161,75],[1244.5,75]].map(([x,y],i)=><line key={i} x1={x} x2={x} y1={y} y2={1061} stroke="#000" strokeWidth={3}/>)}

    {/* CMS classifier heat map */}
    <rect x={1553.6} y={125} width={578} height={8} fill="url(#cmsBar)"/>
    <rect x={1553.6} y={140} width={578} height={28} fill="#ececec"/>
    <rect x={2133} y={170} width={12} height={467} fill="#f1f1f1"/>
    <SegHeat rowSizes={classifierRowSizes} segs={[classifierCms1,classifierCms2,classifierCms3,classifierCms4]} share={classifierCmsShare} x0={1553.6} y0={170} y1={637}/>
    <Speck x={1553} y={170} w={579} h={467} layers={[['cCyan',.55],['cRed',.5],['cDark',.85]]}/>
    <SegHeat rowSizes={classifierRowSizes} segs={[classifierCms1,classifierCms2,classifierCms3,classifierCms4]} share={classifierCmsShare} x0={1553.6} y0={170} y1={637} only={['F','c']} opacity={.55}/>
    <rect x={2127} y={170} width={5} height={467} fill="#ff0000"/>

    {/* connectors */}
    <Link x1={524} y1={232} x2={767} y2={904} c={PINK}/>
    <Link x1={524} y1={320} x2={765} y2={529} c={BLU}/>
    <Link x1={524} y1={320} x2={767} y2={964} c={BLU}/>
    <Link x1={526} y1={451} x2={762} y2={710} c={YEL}/>
    <Link x1={526} y1={451} x2={762} y2={864} c={YEL}/>
    <Link x1={1367} y1={293} x2={1548} y2={543} c={ORG}/>
    <Link x1={1367} y1={517} x2={1550} y2={276} c={BLU}/>
    <Link x1={1367} y1={703} x2={1548} y2={210} c={YEL}/>
    <Link x1={1365} y1={880} x2={1549} y2={210} c={YEL}/>
    <Link x1={1363} y1={904} x2={1549} y2={383} c={PINK}/>
    <Link x1={1369} y1={968} x2={1550} y2={276} c={BLU}/>

    {/* highlight boxes */}
    <Box x0={124} y0={178} x1={524} y1={293} c={PINK} rx={18}/>
    <Box x0={128} y0={298} x1={524} y1={343} c={GRN} rx={8}/>
    <Box x0={131} y0={349} x1={524} y1={548} c={YEL} rx={28}/>
    <Box x0={765} y0={248} x1={1364} y1={337} c={ORG} rx={10}/>
    <Box x0={764} y0={502} x1={1365} y1={562} c={BLU} rx={8}/>
    <Box x0={762} y0={686} x1={1363} y1={733} c={YEL} rx={6}/>
    <Box x0={764} y0={855} x1={1363} y1={884} c={YEL} rx={4}/>
    <Box x0={766} y0={887} x1={1361} y1={914} c={PINK} rx={4}/>
    <Box x0={767} y0={954} x1={1367} y1={973} c={BLU} rx={4}/>
    <Box x0={1549} y0={165} x1={2121} y1={245} c={YEL} w={8} rx={14}/>
    <Box x0={1550} y0={252} x1={2121} y1={303} c={GRN} w={7} rx={8}/>
    <Box x0={1549} y0={306} x1={2135} y1={451} c={PINK} w={9} rx={22}/>
    <Box x0={1550} y0={458} x1={2135} y1={636} c={ORG} w={9} rx={22}/>
    {[[1653,98,641],[1931,111,633],[2002,111,637]].map(([x,a,b],i)=><line key={i} x1={x} x2={x} y1={a} y2={b} stroke="#000" strokeWidth={2.5}/>)}
    <Txt x={1542} y={108} size={37} w={700}>CMS</Txt>
    {[['1',1610],['2',1807],['3',1965],['4',2071]].map(([t,x])=><Txt key={t as string} x={x} y={108} size={27} fam={OPEN} w={700}>{t}</Txt>)}

    <Txt x={754} y={293} size={26} fam={OPEN} w={700} anchor="end">30 EMT</Txt>
    <Txt x={754} y={530} size={26} fam={OPEN} w={700} anchor="end">53 Immune</Txt>
    <Txt x={1398} y={712} size={26} fam={OPEN} w={700} anchor="start">47 MSI-Low 1</Txt>
    <Txt x={1398} y={869} size={26} fam={OPEN} w={700} anchor="start">26 MSI-Low 2</Txt>
    <Txt x={1398} y={902} size={26} fam={OPEN} w={700} anchor="start">123 Goblet</Txt>
    <Txt x={1398} y={964} size={26} fam={OPEN} w={700} anchor="start">84 ERK</Txt>

    {/* ---------- Panel B ---------- */}
    <Txt x={41} y={1128} size={74}>B</Txt>
    <rect x={74} y={1110} width={16} height={182} fill="url(#bBar)"/>
    <rect x={74} y={1110} width={16} height={11} fill="#f06060"/>
    <rect x={74} y={1121} width={16} height={7} fill="#fff"/>
    <rect x={74} y={1110} width={16} height={182} fill="none" stroke="#555" strokeWidth={0.5}/>
    {[[2,1110],[1,1161],[0,1205],[-1,1247],[-2,1291]].map(([t,y])=><g key={t}><line x1={90} x2={100} y1={y} y2={y} stroke="#222" strokeWidth={2}/><Txt x={t<0?112:122} y={y} size={25} fam={ARIAL} fill="#222">{t<0?`−${-t}`:t}</Txt></g>)}
    {[['CMS1',295],['CMS2',601],['CMS3',870],['CMS4',1029]].map(([t,x])=><Txt key={t as string} x={x} y={1119} size={35}>{t}</Txt>)}
    <GridHeat rows={tcgaRows} edges={[220,373.5,809,932,1116]} y0={1161} y1={2042} color={divergent}/>
    <Speck x={220} y={1161} w={896} h={881} layers={[['bBlue',.45],['bRed',.4],['bWhite',.55]]}/>
    <Box x0={208} y0={1154} x1={1126} y1={2022} c={TEAL} w={8} rx={28}/>
    <Box x0={208} y0={1972} x1={1126} y1={2047} c={NAVY} w={8} rx={30}/>
    {[373.5,809,932].map(x=><line key={x} x1={x} x2={x} y1={1100} y2={2050} stroke="#0a2a10" strokeWidth={5}/>)}
    <Txt x={167} y={1537} size={41} fam={OPEN} rot={-90}>TCGA Immune Module 53</Txt>
    <Txt x={123} y={2020} size={38} fam={OPEN} rot={-90}>PDX</Txt>
    <Txt x={169} y={1994} size={36} fam={OPEN} rot={-90}>Module 64</Txt>
    <Txt x={1150} y={1128} size={26} fam={ARIAL} rot={-90} fill="#ff3810">CRIS</Txt>
    <Txt x={1178} y={1126} size={26} fam={ARIAL} rot={-90} fill="#8a18c0">CMS</Txt>
    <rect x={1147} y={1161} width={6} height={5} fill="#ff3810"/>
    <rect x={1167} y={1161} width={9} height={44} fill="#8a18c0"/>
    <rect x={1142} y={1973} width={6} height={6} fill="#ff3810"/>
    <rect x={1160} y={1978} width={5} height={5} fill="#8a18c0"/>
    <rect x={1173} y={1974} width={11} height={45} fill="#ff3010"/>
    <Txt x={1196} y={2002} size={38} anchor="start" fam={LATO}>Overlap = Intrinsic Immune</Txt>

    {/* ---------- Panel C ---------- */}
    <Txt x={1280} y={1127} size={74}>C</Txt>
    <Txt x={1766} y={1225} size={38} w={700} fill="#222">PDX RNAseq</Txt>
    <Txt x={1428} y={1293} size={31}>MSI</Txt>
    <Txt x={1875} y={1293} size={31}>MSS</Txt>
    <GridHeat rows={pdxRows} edges={[1293,1566,2191]} y0={1335} y1={1764} color={divergent}/>
    <line x1={1566} x2={1566} y1={1284} y2={1764} stroke="#0a2a10" strokeWidth={6}/>
    <Txt x={1269} y={1553} size={39} fam={OPEN} rot={-90}>Intrinsic Immune</Txt>

    {/* ---------- Panel D ---------- */}
    <Txt x={40} y={2113} size={74}>D</Txt>
    <Swarm series={dSeries} colors={dColors} xs={dCategories.map(c=>dX(c))} y={dY} dx={4.6} maxW={46} r={2.2}/>
    <line x1={314} x2={1029} y1={dY(0)} y2={dY(0)} stroke="#000" strokeWidth={5} strokeLinecap="round" strokeDasharray="0 16.5"/>
    <path d={line([[302,2094],[302,2587.5],[1039,2587.5]]) as string} fill="none" stroke="#000" strokeWidth={4.5}/>
    {dTicks.map(t=><g key={t}><line x1={283} x2={302} y1={dY(t)} y2={dY(t)} stroke="#000" strokeWidth={4}/><Txt x={275} y={dY(t)} size={37} fam={ARIAL} w={700} anchor="end">{t<0?`−${-t}`:t}</Txt></g>)}
    {dCategories.map(c=><g key={c}><line x1={dX(c)} x2={dX(c)} y1={2587} y2={2608} stroke="#000" strokeWidth={4}/>
      <text transform={`translate(${(dX(c) as number)+12} 2632) rotate(-45)`} fontFamily={ARIAL} fontWeight={700} fontStyle="italic" fontSize={38} textAnchor="end" dominantBaseline="central">{c}</text></g>)}
    <Txt x={207} y={2341} size={40} fam={ARIAL} w={700} rot={-90}>iCMS log2 Fold-change</Txt>
    <line x1={1044.6} x2={1044.6} y1={2333} y2={2120} stroke="#000" strokeWidth={6}/>
    <path d="M1044.6 2094L1060 2130H1029Z" fill="#000"/>
    <line x1={1044.6} x2={1044.6} y1={2350} y2={2550} stroke="#000" strokeWidth={6}/>
    <path d="M1044.6 2577L1060 2541H1029Z" fill="#000"/>
    {[['Higher in',1071,2213],['MSI-like',1117,2213],['iCMS3',1167,2213],['Higher in',1071,2461],['MSS-like',1117,2461],['iCMS2',1167,2461]].map(([t,x,y],i)=><Txt key={i} x={x} y={y} size={40} fam={ARIAL} rot={-90}>{t}</Txt>)}

    {/* ---------- Panel E ---------- */}
    <Txt x={1270} y={2102} size={74}>E</Txt>
    <Txt x={1807} y={2097} size={39} w={700} fill="#222">#123 in normal colon GSE125970</Txt>
    <Swarm series={eSeries} colors={eColors} xs={eCategories.map(c=>eX(c))} y={eY} dx={6.5} maxW={66} r={2.3}/>
    <line x1={1444} x2={2161} y1={eY(0)} y2={eY(0)} stroke="#000" strokeWidth={5} strokeLinecap="round" strokeDasharray="0 16.5"/>
    <path d={line([[1433,2091],[1433,2586.5],[2174,2586.5]]) as string} fill="none" stroke="#000" strokeWidth={4.5}/>
    {eTicks.map(t=><g key={t}><line x1={1415} x2={1433} y1={eY(t)} y2={eY(t)} stroke="#000" strokeWidth={4}/><Txt x={1407} y={eY(t)} size={37} fam={ARIAL} w={700} anchor="end">{t<0?`−${-t}`:t}</Txt></g>)}
    {eCategories.map(c=><g key={c}><line x1={eX(c)} x2={eX(c)} y1={2586} y2={2607} stroke="#000" strokeWidth={4}/>
      <text transform={`translate(${(eX(c) as number)+10} 2632) rotate(-45)`} fontFamily={ARIAL} fontWeight={700} fontSize={38} textAnchor="end" dominantBaseline="central">{c}</text></g>)}
    <Txt x={1335} y={2338} size={41} fam={ARIAL} w={700} rot={-90}>Normalized Expression</Txt>
  </svg>);
}
